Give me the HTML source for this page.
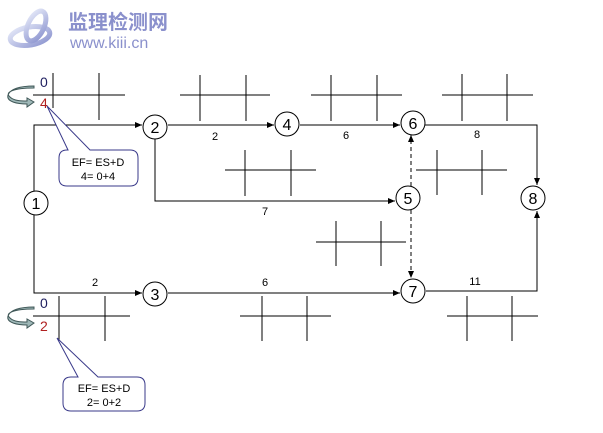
<!DOCTYPE html>
<html><head><meta charset="utf-8"><style>
html,body{margin:0;padding:0;background:#fff;}
svg{display:block;}
text{font-family:"Liberation Sans",Arial,sans-serif;}
</style></head><body>
<svg width="603" height="433" viewBox="0 0 603 433" xmlns="http://www.w3.org/2000/svg">
<defs>
<marker id="ar" markerWidth="8" markerHeight="8" refX="7" refY="4" orient="auto" markerUnits="userSpaceOnUse">
<path d="M0,1 L7,4 L0,7 z" fill="#000"/></marker>
<linearGradient id="lg" x1="0" y1="0" x2="1" y2="1"><stop offset="0" stop-color="#e4e8f8"/><stop offset="1" stop-color="#8e96d0"/></linearGradient>
</defs>
<g fill="none" stroke="url(#lg)" stroke-width="5">
<ellipse cx="30" cy="36" rx="20" ry="9" transform="rotate(-10 30 36)"/>
<ellipse cx="36" cy="26" rx="8" ry="16" transform="rotate(25 36 26)"/>
</g>
<text x="68" y="29" font-size="20" font-weight="bold" fill="#8a90cc" style="font-family:'Liberation Sans','Noto Sans CJK SC',sans-serif">监理检测网</text>
<text x="70" y="48" font-size="16" fill="#8a90cc">www.kiii.cn</text>

<g stroke="#000" stroke-width="1" fill="none">
<path d="M33,95H125M53,73V108M99,73V120"/>
<path d="M180,95H270M200,75V121M246,75V121"/>
<path d="M311,95H402M331,75V121M377,75V121"/>
<path d="M442,95H533M462,74V121M507,74V121"/>
<path d="M225,170H316M245,150V196M291,150V196"/>
<path d="M416,170H507M437,150V195M482,150V195"/>
<path d="M316,242H406M336,221V266M381,221V266"/>
<path d="M33,316H130M59,296V341M105,296V341"/>
<path d="M240,316H331M262,296V341M307,296V341"/>
<path d="M447,316H538M467,296V341M512,296V341"/>
<path d="M34,191V125H142" marker-end="url(#ar)"/>
<path d="M34,215V293H142" marker-end="url(#ar)"/>
<path d="M168,125H274" marker-end="url(#ar)"/>
<path d="M300,125H400" marker-end="url(#ar)"/>
<path d="M425,125H537V185" marker-end="url(#ar)"/>
<path d="M155,139V201H395" marker-end="url(#ar)"/>
<path d="M168,293H400" marker-end="url(#ar)"/>
<path d="M426,291H537V211" marker-end="url(#ar)"/>
<path d="M411,186V135" stroke-dasharray="4,3" marker-end="url(#ar)"/>
<path d="M411,210V278" stroke-dasharray="4,3" marker-end="url(#ar)"/>
</g>
<g stroke="#000" stroke-width="1" fill="#fff">
<circle cx="36" cy="203" r="12"/><circle cx="155" cy="127" r="12"/>
<circle cx="287" cy="124" r="12"/><circle cx="413" cy="123" r="12"/>
<circle cx="408" cy="198" r="12"/><circle cx="533" cy="198" r="12"/>
<circle cx="155" cy="294" r="12"/><circle cx="413" cy="291" r="12"/>
</g>
<g font-size="16" text-anchor="middle" fill="#000">
<text x="36" y="209">1</text><text x="155" y="133">2</text><text x="287" y="130">4</text>
<text x="413" y="129">6</text><text x="408" y="204">5</text><text x="533" y="204">8</text>
<text x="155" y="300">3</text><text x="413" y="297">7</text>
</g>
<g font-size="11" text-anchor="middle" fill="#000">
<text x="68" y="146">4</text><text x="215" y="140">2</text><text x="346" y="139">6</text>
<text x="477" y="138">8</text><text x="265" y="215">7</text><text x="95" y="286">2</text>
<text x="265" y="286">6</text><text x="475" y="285">11</text>
</g>
<text x="40" y="87" font-size="14" fill="#202060">0</text>
<text x="40" y="108" font-size="14" fill="#b02020">4</text>
<text x="40" y="308" font-size="14" fill="#202060">0</text>
<text x="40" y="331" font-size="14" fill="#b02020">2</text>
<g fill="#9fb8b8" stroke="#405858" stroke-width="1">
<path d="M34,88 C14,88 4,92 10,97 C14,101 22,101 27,101 L27,98 L34,102 L27,107 L27,104 C18,104 6,102 8,95 C10,89 20,86 34,86 z"/>
<path d="M34,309 C14,309 4,313 10,318 C14,322 22,322 27,322 L27,319 L34,323 L27,328 L27,325 C18,325 6,323 8,316 C10,310 20,307 34,307 z"/>
</g>
<path d="M68,150 L47,106 L90,150 H130 Q138,150 138,158 V178 Q138,186 130,186 H67 Q59,186 59,178 V158 Q59,150 67,150 Z" fill="#fff" stroke="#3a3a8a" stroke-width="1"/>
<text x="98" y="166" font-size="11" text-anchor="middle">EF= ES+D</text>
<text x="98" y="180" font-size="11" text-anchor="middle">4= 0+4</text>
<path d="M78,377 L57,338 L98,377 H137 Q145,377 145,385 V403 Q145,411 137,411 H71 Q63,411 63,403 V385 Q63,377 71,377 Z" fill="#fff" stroke="#3a3a8a" stroke-width="1"/>
<text x="104" y="392" font-size="11" text-anchor="middle">EF= ES+D</text>
<text x="104" y="406" font-size="11" text-anchor="middle">2= 0+2</text>
</svg>
</body></html>
